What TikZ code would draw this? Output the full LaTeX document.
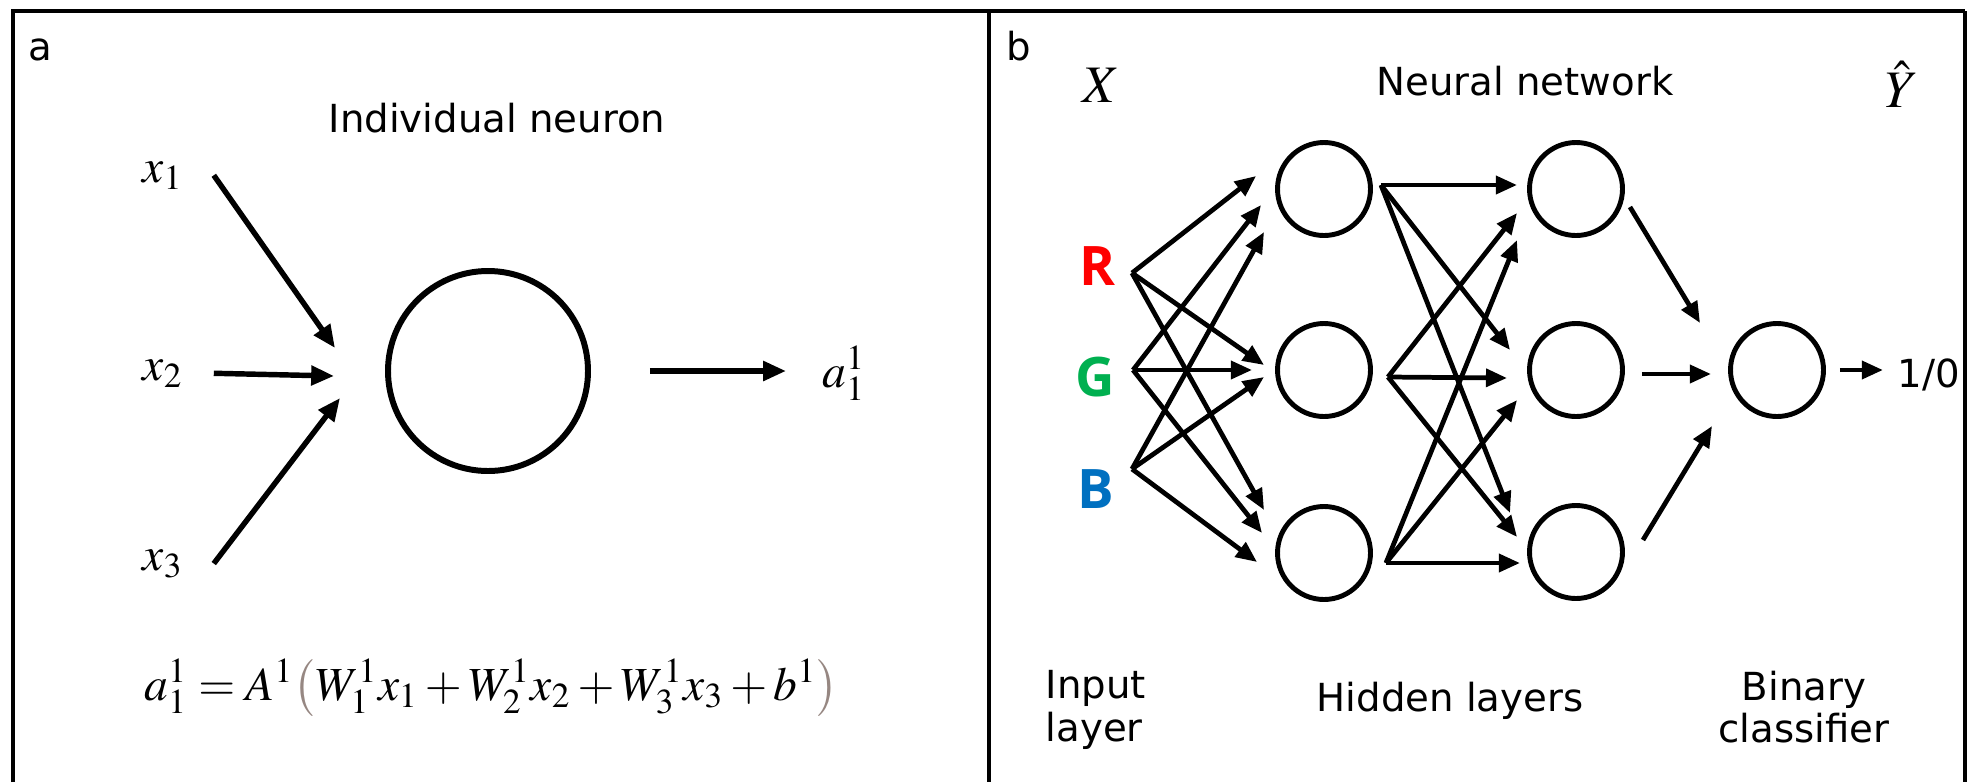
\documentclass[tikz,border=0pt]{standalone}
\usepackage{mathptmx}
\usepackage[no-math]{fontspec}
\setmainfont{DejaVu Sans}
\newfontfamily\rgbfont{Open Sans}
\usetikzlibrary{arrows.meta,calc}
\definecolor{rred}{RGB}{255,0,0}
\definecolor{ggreen}{RGB}{0,176,80}
\definecolor{bblue}{RGB}{0,112,192}
\definecolor{parcol}{RGB}{150,135,130}

\begin{document}
\begin{tikzpicture}[
    neuron/.style={draw, circle, line width=1.4pt, minimum size=0.93cm, inner sep=0pt},
    bigneuron/.style={draw, circle, line width=1.7pt, minimum size=2cm, inner sep=0pt},
    lbl/.style={inner sep=0pt, font=\fontsize{11}{12.2}\selectfont},
    mlbl/.style={inner sep=0pt, font=\fontsize{13.5}{16}\selectfont},
    vlbl/.style={inner sep=0pt, font=\fontsize{15}{18}\selectfont},
    rgb/.style={inner sep=0pt, font=\fontsize{15.5}{18}\selectfont\rgbfont\bfseries},
    arr/.style={-{Triangle[length=6pt, width=5pt]}, line width=1.35pt},
    bigarr/.style={-{Triangle[length=6.5pt, width=5.4pt]}, line width=1.55pt},
    frame/.style={line width=1.4pt}
]
\useasboundingbox (0,0) rectangle (19.68,-7.82);
\draw[frame] (0.13,-7.82) -- (0.13,-0.11) -- (19.65,-0.11);
\draw[frame] (9.89,-0.11) -- (9.89,-7.82);
\draw[line width=1pt] (19.65,-0.11) -- (19.65,-7.82);

\node[lbl, anchor=base west] (pa) at (0.28,-0.60) {a};
\node[lbl, anchor=base] (ttla) at (4.97,-1.32) {Individual neuron};
\node[bigneuron] (neuron) at (4.88,-3.71) {};
\node[mlbl, anchor=base west] (x1) at (1.42,-1.82) {$x_1$};
\node[mlbl, anchor=base west] (x2) at (1.42,-3.80) {$x_2$};
\node[mlbl, anchor=base west] (x3) at (1.42,-5.70) {$x_3$};
\node[mlbl, anchor=base west] (a11) at (8.22,-3.87) {$a_1^1$};
\node[mlbl, anchor=base west] (eqn) at (1.44,-7.00) {$a_1^1 = A^1{\color{parcol}\bigl(}W_1^1x_1 + W_2^1x_2 + W_3^1x_3 + b^1{\color{parcol}\bigr)}$};

\draw[bigarr] ([xshift=0.3cm]x1.east) -- ([shift={(-0.50,0.23)}]neuron.west);
\draw[bigarr] ([xshift=0.3cm]x2.east) -- ([shift={(-0.51,-0.05)}]neuron.west);
\draw[bigarr] ([xshift=0.3cm]x3.east) -- ([shift={(-0.45,-0.27)}]neuron.west);
\draw[bigarr] ([xshift=0.59cm]neuron.east) -- ($(neuron.east -| a11.west)+(-0.36,0)$);

\node[lbl, anchor=base west] (pb) at (10.06,-0.60) {b};
\node[lbl, anchor=base] (ttlb) at (15.25,-0.95) {Neural network};
\node[vlbl, anchor=base] (xin) at (11.01,-1.02) {$X$};
\node[vlbl, anchor=base] (yout) at (19.02,-1.07) {$\hat{Y}$};

\node[rgb, text=rred, anchor=base] (R) at (10.97,-2.85) {R};
\node[rgb, text=ggreen, anchor=base] (G) at (10.95,-3.96) {G};
\node[rgb, text=bblue, anchor=base] (B) at (10.96,-5.08) {B};
\coordinate (rin) at (11.32,-2.73);
\coordinate (gin) at (11.33,-3.70);
\coordinate (bin) at (11.32,-4.69);

\node[neuron] (h1a) at (13.24,-1.89) {};
\node[neuron] (h1b) at (13.24,-3.70) {};
\node[neuron] (h1c) at (13.24,-5.53) {};
\node[neuron] (h2a) at (15.76,-1.89) {};
\node[neuron] (h2b) at (15.76,-3.70) {};
\node[neuron] (h2c) at (15.76,-5.52) {};
\node[neuron] (outn) at (17.77,-3.70) {};
\node[lbl, anchor=base west] (res) at (18.97,-3.87) {1/0};

\draw[arr] (rin) -- ([shift={(-0.19,0.13)}]h1a.west);
\draw[arr] (gin) -- ([shift={(-0.14,-0.16)}]h1a.west);
\draw[arr] (bin) -- ([shift={(-0.11,-0.43)}]h1a.west);
\draw[arr] (rin) -- ([shift={(-0.11,0.05)}]h1b.west);
\draw[arr] (gin) -- ([shift={(-0.23,0)}]h1b.west);
\draw[arr] (bin) -- ([shift={(-0.11,-0.07)}]h1b.west);
\draw[arr] (rin) -- ([shift={(-0.11,0.43)}]h1c.west);
\draw[arr] (gin) -- ([shift={(-0.13,0.20)}]h1c.west);
\draw[arr] (bin) -- ([shift={(-0.18,-0.09)}]h1c.west);

\coordinate (s1a) at ([shift={(0.08,0.04)}]h1a.east);
\coordinate (s1b) at ([shift={(0.15,-0.07)}]h1b.east);
\coordinate (s1c) at ([shift={(0.13,-0.10)}]h1c.east);
\draw[arr] (s1a) -- ([shift={(-0.10,0.04)}]h2a.west);
\draw[arr] (s1b) -- ([shift={(-0.10,-0.24)}]h2a.west);
\draw[arr] (s1c) -- ([shift={(-0.10,-0.51)}]h2a.west);
\draw[arr] (s1a) -- ([shift={(-0.17,0.20)}]h2b.west);
\draw[arr] (s1b) -- ([shift={(-0.20,-0.08)}]h2b.west);
\draw[arr] (s1c) -- ([shift={(-0.10,-0.30)}]h2b.west);
\draw[arr] (s1a) -- ([shift={(-0.17,0.39)}]h2c.west);
\draw[arr] (s1b) -- ([shift={(-0.10,0.15)}]h2c.west);
\draw[arr] (s1c) -- ([shift={(-0.07,-0.11)}]h2c.west);

\draw[arr] ([shift={(0.05,-0.18)}]h2a.east) -- ([shift={(-0.28,0.47)}]outn.west);
\draw[arr] ([shift={(0.17,-0.04)}]h2b.east) -- ([shift={(-0.17,-0.04)}]outn.west);
\draw[arr] ([shift={(0.18,0.12)}]h2c.east) -- ([shift={(-0.16,-0.56)}]outn.west);
\draw[arr] ([xshift=0.14cm]outn.east) -- ($(outn.east -| res.west)+(-0.14,0)$);

\node[lbl, anchor=north west, align=left] (inl) at (10.45,-6.70) {Input\\layer};
\node[lbl, anchor=base] (hidl) at (14.50,-7.11) {Hidden layers};
\node[lbl, anchor=north, align=center] (binl) at (18.04,-6.70) {Binary\\classifier};
\end{tikzpicture}
\end{document}
